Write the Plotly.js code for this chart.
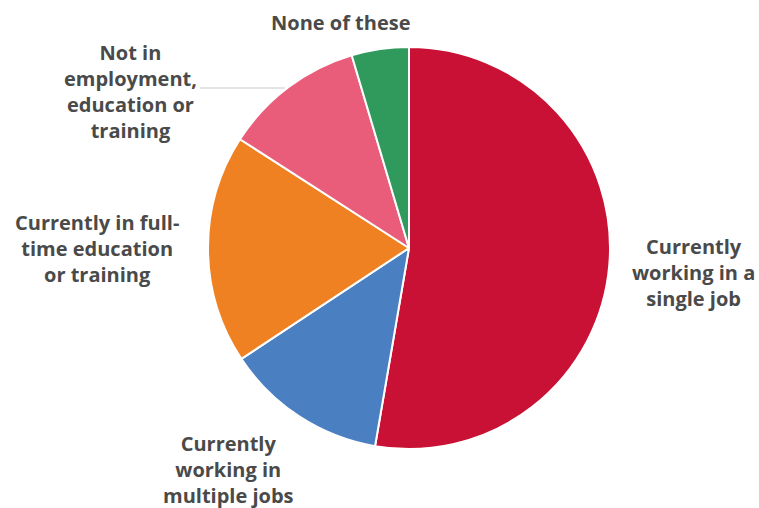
<!DOCTYPE html>
<html>
<head>
<meta charset="utf-8">
<script src="https://cdn.plot.ly/plotly-3.0.1.min.js"></script>
<style>html,body{margin:0;padding:0;background:#fff;}#chart{width:759px;height:508px;}</style>
</head>
<body>
<div id="chart"></div>
<script>
const categories = [
  "Currently working in a single job",
  "Currently working in multiple jobs",
  "Currently in full-time education or training",
  "Not in employment, education or training",
  "None of these"
];
const labelText = [
  "Currently<br>working in a<br>single job",
  "Currently<br>working in<br>multiple jobs",
  "Currently in full-<br>time education<br>or training",
  "Not in<br>employment,<br>education or<br>training",
  "None of these"
];
const shares = [52.7, 13.0, 18.4, 11.3, 4.6];
const colors = ["#C81134", "#4A80C2", "#EF8122", "#E95D7A", "#2F9A5B"];

const labelPos = [
  {x: 693, y: 272},
  {x: 228, y: 469},
  {x: 97, y: 248},
  {x: 130, y: 91},
  {x: 341, y: 22}
];

const W = 759, H = 508;
const annotations = labelText.map((t, i) => ({
  text: t,
  x: labelPos[i].x / W,
  y: 1 - labelPos[i].y / H,
  xref: 'paper', yref: 'paper',
  xanchor: 'center', yanchor: 'middle',
  showarrow: false,
  align: 'center',
  font: {family: '"Open Sans", sans-serif', size: 20, color: '#4a4a4a', weight: 'bold'}
}));

const data = [{
  type: 'pie',
  labels: categories,
  values: shares,
  marker: {colors: colors, line: {color: '#ffffff', width: 2}},
  sort: false,
  direction: 'clockwise',
  rotation: 0,
  textinfo: 'none',
  hoverinfo: 'label+percent',
  domain: {x: [208 / W, 610 / W], y: [1 - 449 / H, 1 - 47 / H]}
}];

const layout = {
  width: W, height: H,
  margin: {l: 0, r: 0, t: 0, b: 0},
  paper_bgcolor: '#ffffff',
  showlegend: false,
  annotations: annotations,
  shapes: [{
    type: 'line', xref: 'paper', yref: 'paper',
    x0: 200 / W, x1: 285 / W, y0: 1 - 88 / H, y1: 1 - 88 / H,
    line: {color: '#c8c8c8', width: 1}
  }]
};

Plotly.newPlot('chart', data, layout, {displayModeBar: false, staticPlot: true});
</script>
</body>
</html>
